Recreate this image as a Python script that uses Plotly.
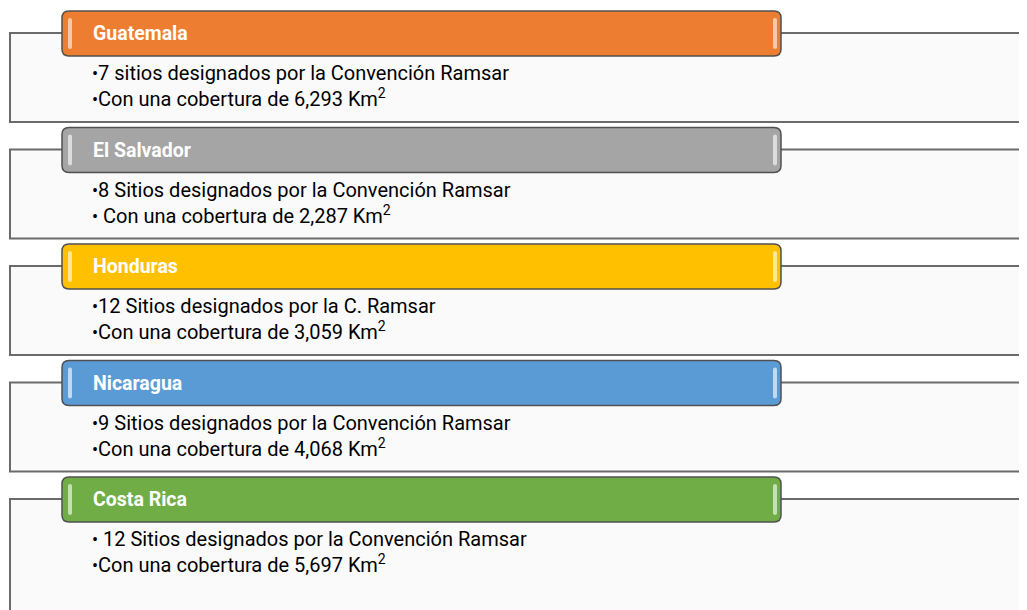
import plotly.graph_objects as go

countries = ["Guatemala", "El Salvador", "Honduras", "Nicaragua", "Costa Rica"]
line1 = ["•7 sitios designados por la Convención Ramsar",
         "•8 Sitios designados por la Convención Ramsar",
         "•12 Sitios designados por la C. Ramsar",
         "•9 Sitios designados por la Convención Ramsar",
         "• 12 Sitios designados por la Convención Ramsar"]
line2_prefix = ["•Con una cobertura de", "• Con una cobertura de", "•Con una cobertura de",
                "•Con una cobertura de", "•Con una cobertura de"]
areas_km2 = ["6,293", "2,287", "3,059", "4,068", "5,697"]
colors = ["#ED7D31", "#A5A5A5", "#FFC000", "#5B9BD5", "#70AD47"]
highlights = ["#F8C9A6", "#DCDCDC", "#FFE699", "#C2DAF0", "#C5E0B4"]

W, H = 1027, 610
OFF = 8  # page (body margin) offset compensation
header_tops = [11, 127.5, 244, 360.5, 477]

BULLET = "<span style='font-size:18px'>•</span>"


def rrect(x0, y0, x1, y1, r):
    return (f"M{x0+r},{y0} L{x1-r},{y0} Q{x1},{y0} {x1},{y0+r} L{x1},{y1-r} "
            f"Q{x1},{y1} {x1-r},{y1} L{x0+r},{y1} Q{x0},{y1} {x0},{y1-r} "
            f"L{x0},{y0+r} Q{x0},{y0} {x0+r},{y0} Z")


fig = go.Figure()
fig.add_trace(go.Scatter(x=[OFF, W], y=[OFF, H], mode="markers",
                         marker=dict(opacity=0), hoverinfo="skip", showlegend=False))

shapes = []
annotations = []
for i, c in enumerate(countries):
    t = header_tops[i]
    box_bottom = t + 111 if i < len(countries) - 1 else H + 20
    shapes.append(dict(type="rect", x0=10, y0=t + 22, x1=W + 20, y1=box_bottom,
                       line=dict(color="#6b6b6b", width=2), fillcolor="#FAFAFA", layer="above"))
    shapes.append(dict(type="path", path=rrect(62, t, 781, t + 45, 7),
                       line=dict(color="#505050", width=1.5), fillcolor=colors[i], layer="above"))
    shapes.append(dict(type="path", path=rrect(68, t + 7, 72, t + 38, 2),
                       line=dict(width=0), fillcolor=highlights[i], layer="above"))
    shapes.append(dict(type="path", path=rrect(773, t + 7, 777, t + 38, 2),
                       line=dict(width=0), fillcolor=highlights[i], layer="above"))
    annotations.append(dict(x=91, y=t + 22.5, text=f"<b>{c}</b>", showarrow=False,
                            xanchor="left", yanchor="middle",
                            font=dict(family="Roboto", size=19.5, color="white")))
    annotations.append(dict(x=90, y=t + 62, text=line1[i].replace("•", BULLET, 1),
                            showarrow=False, xanchor="left", yanchor="middle",
                            font=dict(family="Roboto", size=20, color="black")))
    annotations.append(dict(x=90, y=t + 87,
                            text=f"{line2_prefix[i].replace('•', BULLET, 1)} {areas_km2[i]} Km<sup>2</sup>",
                            showarrow=False, xanchor="left", yanchor="middle",
                            font=dict(family="Roboto", size=20, color="black")))

fig.update_layout(
    width=W - OFF, height=H - OFF, margin=dict(l=0, r=0, t=0, b=0),
    paper_bgcolor="white", plot_bgcolor="white",
    xaxis=dict(range=[OFF, W], visible=False, fixedrange=True),
    yaxis=dict(range=[H, OFF], visible=False, fixedrange=True),
    shapes=shapes, annotations=annotations, showlegend=False,
)
fig.write_html("out.html")
